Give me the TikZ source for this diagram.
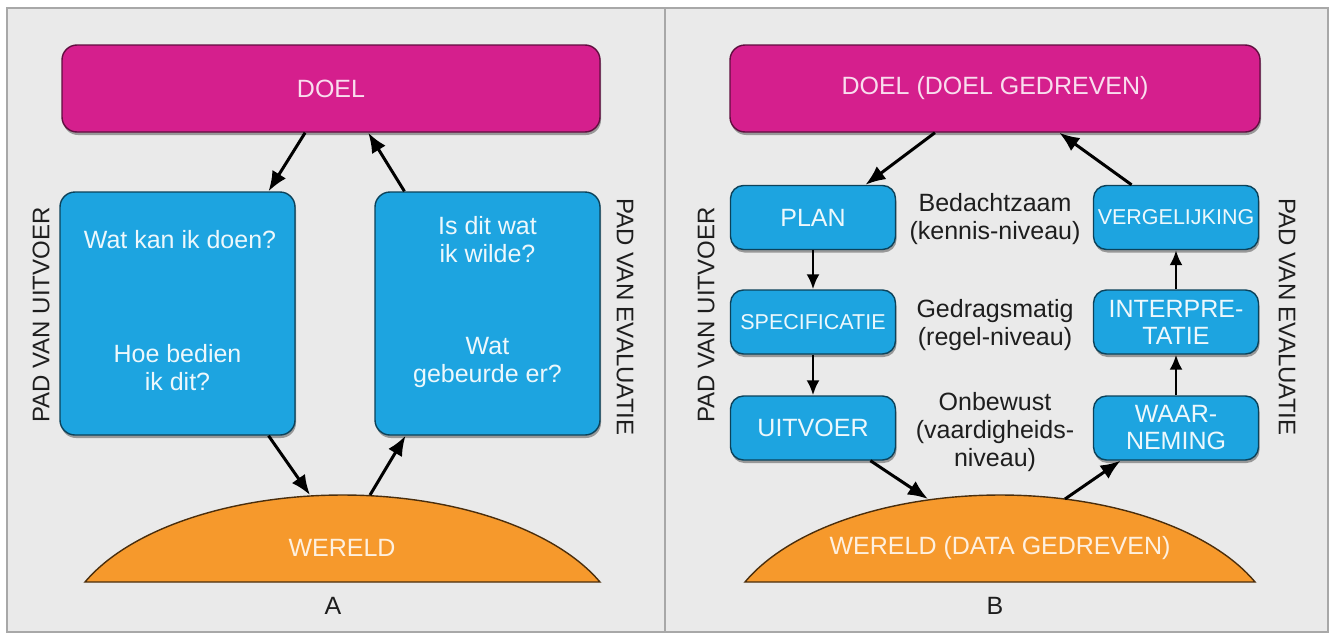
\documentclass[tikz,border=0pt]{standalone}
\usepackage{fontspec}
\setmainfont{Liberation Sans}
\usetikzlibrary{arrows.meta,shadows,calc}
\definecolor{bgc}{HTML}{EAEAEA}
\definecolor{framec}{HTML}{A8A8A8}
\definecolor{magc}{HTML}{D51F8D}
\definecolor{bluc}{HTML}{1DA4E0}
\definecolor{orgc}{HTML}{F6992C}
\definecolor{txtc}{HTML}{1E1E1E}
\begin{document}
\begin{tikzpicture}[x=1pt,y=1pt,
  font=\fontsize{25}{28}\selectfont,
  basebox/.style={rounded corners=15pt, line width=1.4pt, inner sep=0pt, align=center,
    drop shadow={shadow xshift=1pt, shadow yshift=-3pt, opacity=0.35, fill=black}},
  doelbox/.style={basebox, fill=magc, draw=magc!45!black, text=white!85!magc},
  bigbox/.style={basebox, fill=bluc, draw=bluc!40!black, text=white!92!bluc},
  smallbox/.style={basebox, rounded corners=13pt, fill=bluc, draw=bluc!40!black, text=white!92!bluc,
    minimum width=165pt, minimum height=64pt},
  boxtext/.style={text=white!92!bluc, align=center, inner sep=0pt},
  sidelabel/.style={text=txtc, inner sep=0pt, font=\fontsize{24}{28}\selectfont},
  midtext/.style={text=txtc, align=center, inner sep=0pt},
  world/.style={fill=orgc, draw=orgc!30!black, line width=1.4pt},
  worldtext/.style={text=white!85!orgc, inner sep=0pt},
  arr/.style={line width=3pt, -{Latex[length=20pt,width=16pt]}},
  sarr/.style={line width=2.6pt, -{Latex[length=15pt,width=13pt]}}
]
\useasboundingbox (0,0) rectangle (1335,-640);
\fill[white] (0,0) rectangle (1335,-640);
\draw[fill=bgc, draw=framec, line width=1.5pt] (7,-8) rectangle (1328,-632);
\draw[framec, line width=1.5pt] (665,-8) -- (665,-632);

% ---------------- Panel A ----------------
\node[doelbox, minimum width=538pt, minimum height=87pt] (doelA) at (331,-88.5) {DOEL};
\node[bigbox, minimum width=235pt, minimum height=243pt] (lA) at (177.5,-313.5) {};
\node[bigbox, minimum width=225pt, minimum height=243pt] (rA) at (487.5,-313.5) {};
\node[boxtext] (lA1) at (180,-240) {Wat kan ik doen?};
\node[boxtext] (lA2) at (177.5,-368) {Hoe bedien\\ik dit?};
\node[boxtext] (rA1) at (487.5,-240) {Is dit wat\\ik wilde?};
\node[boxtext] (rA2) at (487.5,-362) {Wat\\gebeurde er?};
\node[sidelabel, rotate=90] (uitA) at (41,-315) {PAD VAN UITVOER};
\node[sidelabel, rotate=-90] (evA) at (625,-317) {PAD VAN EVALUATIE};

\draw[world] (85,-582) arc[start angle=156.4, end angle=23.6, x radius=281pt, y radius=145pt] -- cycle;
\coordinate (wA1) at (310,-495);
\coordinate (wA2) at (370,-495);
\node[worldtext] (wereldA) at (342,-548) {WERELD};
\node[text=txtc, inner sep=0pt] (labA) at (333,-606) {A};

\draw[arr] ($(doelA.south west)!0.452!(doelA.south east)$) -- ($(lA.north west)!0.885!(lA.north east)$);
\draw[arr] ($(rA.north west)!0.133!(rA.north east)$) -- ($(doelA.south west)!0.569!(doelA.south east)$);
\draw[arr] ($(lA.south west)!0.885!(lA.south east)$) -- (wA1);
\draw[arr] (wA2) -- ($(rA.south west)!0.138!(rA.south east)$);

% ---------------- Panel B ----------------
\node[doelbox, minimum width=530pt, minimum height=87pt] (doelB) at (995,-88.5) {DOEL (DOEL GEDREVEN)};
\node[smallbox] (plan) at (813,-217.5) {PLAN};
\node[smallbox, font=\fontsize{21.5}{25}\selectfont] (spec) at (813,-322) {SPECIFICATIE};
\node[smallbox] (uit) at (813,-428) {UITVOER};
\node[smallbox, font=\fontsize{21.5}{25}\selectfont] (verg) at (1176,-217.5) {VERGELIJKING};
\node[smallbox, font=\fontsize{25}{27}\selectfont] (inter) at (1176,-322) {INTERPRE-\\TATIE};
\node[smallbox, font=\fontsize{25}{27}\selectfont] (waar) at (1176,-428) {WAAR-\\NEMING};
\node[midtext] (m1) at (995,-219) {Bedachtzaam\\(kennis-niveau)};
\node[midtext] (m2) at (995,-325) {Gedragsmatig\\(regel-niveau)};
\node[midtext] (m3) at (995,-432) {Onbewust\\(vaardigheids-\\niveau)};
\node[sidelabel, rotate=90] (uitB) at (706,-315) {PAD VAN UITVOER};
\node[sidelabel, rotate=-90] (evB) at (1287,-317) {PAD VAN EVALUATIE};

\draw[world] (745,-582) arc[start angle=156.4, end angle=23.6, x radius=278.3pt, y radius=145pt] -- cycle;
\coordinate (wB1) at (928,-499);
\coordinate (wB2) at (1065,-499);
\node[worldtext] (wereldB) at (1000,-548) {WERELD (DATA GEDREVEN)};
\node[text=txtc, inner sep=0pt] (labB) at (995,-606) {B};

\draw[arr] ($(doelB.south west)!0.387!(doelB.south east)$) -- ($(plan.north west)!0.815!(plan.north east)$);
\draw[arr] ($(verg.north west)!0.233!(verg.north east)$) -- ($(doelB.south west)!0.621!(doelB.south east)$);
\draw[sarr] (plan.south) -- (spec.north);
\draw[sarr] (spec.south) -- (uit.north);
\draw[sarr] (waar.north) -- (inter.south);
\draw[sarr] (inter.north) -- (verg.south);
\draw[arr] ($(uit.south west)!0.845!(uit.south east)$) -- (wB1);
\draw[arr] (wB2) -- ($(waar.south west)!0.167!(waar.south east)$);
\end{tikzpicture}
\end{document}
